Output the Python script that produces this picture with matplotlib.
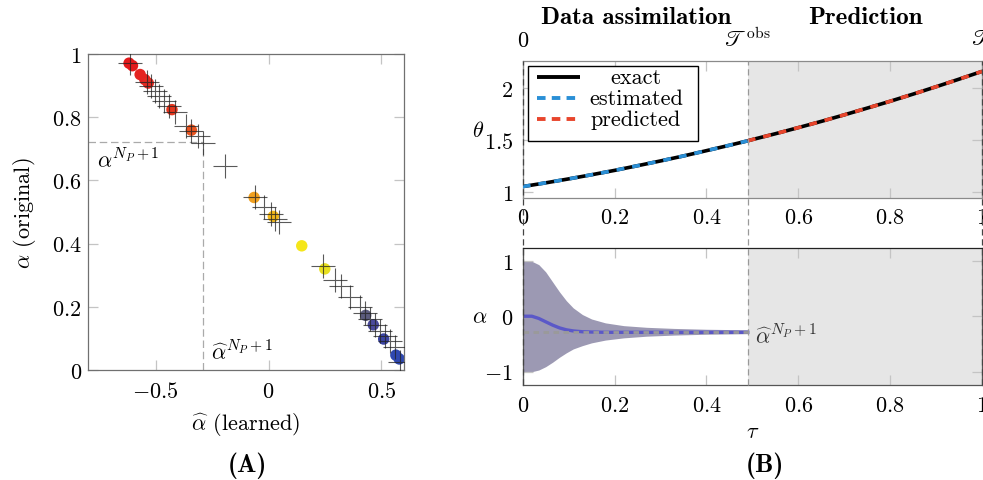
import numpy as np
import matplotlib
matplotlib.use('Agg')
import matplotlib.pyplot as plt
from matplotlib.lines import Line2D
from matplotlib.patches import Rectangle

plt.rcParams['font.family'] = 'cmr10'
plt.rcParams['mathtext.fontset'] = 'cm'
plt.rcParams['axes.formatter.use_mathtext'] = True
plt.rcParams['font.size'] = 16

# ---- (A) learned vs. original parameter ----
alpha_learned = [-0.618, -0.603, -0.569, -0.548, -0.533, -0.428, -0.342, -0.064,
                 0.021, 0.147, 0.249, 0.430, 0.464, 0.510, 0.564, 0.579]
alpha_original = [0.971, 0.963, 0.935, 0.919, 0.908, 0.824, 0.759, 0.546,
                  0.486, 0.393, 0.320, 0.173, 0.143, 0.098, 0.047, 0.035]
point_colors = ['#e31a1c', '#e31a1c', '#e42320', '#e42320', '#e52a20', '#e6361e',
                '#ea5520', '#f0a020', '#f2b81a', '#f5e61a', '#e8e020', '#5c5c7e',
                '#4a4a9c', '#3a44a4', '#2f48b0', '#2f48b0']

cross_learned = [-0.615, -0.537, -0.522, -0.502, -0.484, -0.462, -0.44, -0.415,
                 -0.366, -0.343, -0.314, -0.289, -0.193,
                 -0.062, -0.021, 0.012, 0.027, 0.044,
                 0.239, 0.293, 0.319, 0.36, 0.404, 0.427, 0.449, 0.471,
                 0.493, 0.516, 0.538, 0.56, 0.582]
cross_original = [0.972, 0.910, 0.898, 0.884, 0.868, 0.852, 0.835, 0.815,
                  0.773, 0.757, 0.739, 0.718, 0.647,
                  0.547, 0.515, 0.494, 0.478, 0.467,
                  0.328, 0.286, 0.267, 0.230, 0.198, 0.180, 0.161, 0.142,
                  0.124, 0.109, 0.093, 0.072, 0.024]

alpha_hat_new = -0.29
alpha_new = 0.72

# ---- (B) state and parameter trajectories ----
tau_obs = 0.49
tau_theta = [0, 0.05, 0.1, 0.15, 0.2, 0.25, 0.3, 0.35, 0.4, 0.45, 0.49,
             0.5, 0.55, 0.6, 0.65, 0.7, 0.75, 0.8, 0.85, 0.9, 0.95, 1.0]
theta_exact = [1.050, 1.086, 1.124, 1.164, 1.206, 1.251, 1.297, 1.345, 1.396, 1.448, 1.491,
               1.503, 1.559, 1.618, 1.678, 1.741, 1.806, 1.872, 1.941, 2.012, 2.085, 2.160]
i_obs = tau_theta.index(tau_obs)

tau_alpha = [0, 0.02, 0.035, 0.05, 0.065, 0.08, 0.095, 0.11, 0.13, 0.15,
             0.18, 0.22, 0.27, 0.33, 0.40, 0.49]
alpha_upper = [1.0, 0.99, 0.93, 0.80, 0.62, 0.44, 0.28, 0.15, 0.03, -0.05,
               -0.12, -0.17, -0.20, -0.22, -0.235, -0.245]
alpha_lower = [-1.0, -1.0, -0.97, -0.91, -0.83, -0.74, -0.66, -0.59, -0.53, -0.48,
               -0.43, -0.39, -0.36, -0.34, -0.325, -0.315]
alpha_mean = [0.0, 0.0, -0.04, -0.10, -0.16, -0.21, -0.245, -0.265, -0.28, -0.285,
              -0.29, -0.29, -0.29, -0.29, -0.29, -0.29]

W, H = 983, 481
fig = plt.figure(figsize=(W / 100, H / 100), dpi=100)


def add_axes_px(x0, y0, x1, y1):
    return fig.add_axes([x0 / W, 1 - y1 / H, (x1 - x0) / W, (y1 - y0) / H])


def style(ax, spine_col, xpad, ypad):
    ax.tick_params(which='both', direction='in', top=True, right=True, length=7,
                   width=0.9, color='#c4c4c4')
    ax.tick_params(axis='x', pad=xpad)
    ax.tick_params(axis='y', pad=ypad)
    for s in ax.spines.values():
        s.set_color(spine_col)
        s.set_linewidth(0.9)


# (A)
ax = add_axes_px(88, 55, 404, 371)
ax.scatter(alpha_learned, alpha_original, s=68, c=point_colors, edgecolors='none', zorder=2)
ax.plot(cross_learned, cross_original, ls='none', marker='+', ms=17, mew=0.8,
        color='#222222', alpha=0.75, zorder=3)
ax.plot([-0.8, alpha_hat_new], [alpha_new, alpha_new], color='#aaaaaa', lw=0.9,
        dashes=(6, 3), zorder=1)
ax.plot([alpha_hat_new, alpha_hat_new], [0, alpha_new], color='#aaaaaa', lw=0.9,
        dashes=(6, 3), zorder=1)
ax.text(-0.76, 0.668, r'$\alpha^{N_P+1}$', fontsize=16, va='center', ha='left')
ax.text(-0.253, 0.06, r'$\widehat{\alpha}^{N_P+1}$', fontsize=16, va='center', ha='left')
ax.set_xlim(-0.8, 0.6)
ax.set_ylim(0, 1)
ax.set_xticks([-0.5, 0, 0.5])
ax.set_xticklabels([r'$-0.5$', r'$0$', r'$0.5$'])
ax.set_yticks([0, 0.2, 0.4, 0.6, 0.8, 1])
ax.set_yticklabels([r'$0$', r'$0.2$', r'$0.4$', r'$0.6$', r'$0.8$', r'$1$'])
style(ax, '#707070', 8, 4.5)
ax.set_xlabel(r'$\widehat{\alpha}$ (learned)')
ax.xaxis.set_label_coords(0.5, -(425 - 371) / 316)
ax.xaxis.label.set_va('center')
ax.set_ylabel(r'$\alpha$ (original)')
ax.yaxis.set_label_coords(-(88 - 25) / 316, 0.5)
ax.yaxis.label.set_va('center')

# (B) top: theta
ax1 = add_axes_px(522.7, 62, 982, 199)
ax1.axvspan(tau_obs, 1, color='#e6e6e6', lw=0, zorder=0)
ax1.plot(tau_theta, theta_exact, color='black', lw=2.6, solid_capstyle='butt', zorder=2)
ax1.plot(tau_theta[:i_obs + 1], theta_exact[:i_obs + 1], color='#2a8fd6', lw=2.6,
         dashes=(2.2, 2.2), zorder=3)
ax1.plot(tau_theta[i_obs:], theta_exact[i_obs:], color='#e8452c', lw=2.6,
         dashes=(2.2, 2.2), zorder=3)
ax1.set_xlim(0, 1)
ax1.set_ylim(0.94, 2.26)
ax1.set_xticks([0, 0.2, 0.4, 0.6, 0.8, 1])
ax1.set_xticklabels([r'$0$', r'$0.2$', r'$0.4$', r'$0.6$', r'$0.8$', r'$1$'])
ax1.set_yticks([1, 1.5, 2])
ax1.set_yticklabels([r'$1$', r'$1.5$', r'$2$'])
style(ax1, '#8a8a8a', 7, 7)
ax1.set_ylabel(r'$\theta$', rotation=0)
ax1.yaxis.set_label_coords(-(522.7 - 478) / 459.3, 0.5)
ax1.yaxis.label.set_va('center')

# hand-built legend box
ax1.add_patch(Rectangle((0.0115, 0.416), 0.370, 0.5475, transform=ax1.transAxes,
                        facecolor='white', edgecolor='black', lw=1.0, zorder=5))
legend_rows = [('exact', 'black', None, 0.883),
               ('estimated', '#2a8fd6', (2.2, 1.6), 0.730),
               ('predicted', '#e8452c', (2.2, 1.6), 0.577)]
for label, col, dash, yy in legend_rows:
    ln = Line2D([0.0305, 0.1247], [yy, yy], transform=ax1.transAxes, color=col,
                lw=2.8, solid_capstyle='butt', zorder=6)
    if dash is not None:
        ln.set_dashes(dash)
    ax1.add_line(ln)
    ax1.text(0.247, yy, label, transform=ax1.transAxes, ha='center', va='center',
             fontsize=16, zorder=6)

xtop = ax1.get_xaxis_transform()
ax1.text(0, 1 + (62 - 41) / 137, r'$0$', transform=xtop, ha='center', va='center')
ax1.text(tau_obs, 1 + (62 - 39) / 137, r'$\mathscr{T}^{\mathrm{obs}}$', transform=xtop,
         ha='center', va='center')
ax1.text(1, 1 + (62 - 39) / 137, r'$\mathscr{T}$', transform=xtop, ha='center', va='center')
ax1.text(0.248, 1 + (62 - 18) / 137, 'Data assimilation', transform=xtop, ha='center',
         va='center', family='cmb10', fontsize=18)
ax1.text(0.745, 1 + (62 - 18) / 137, 'Prediction', transform=xtop, ha='center',
         va='center', family='cmb10', fontsize=18)

# (B) bottom: alpha
ax2 = add_axes_px(522.7, 249, 982, 386)
ax2.axvspan(tau_obs, 1, color='#e6e6e6', lw=0, zorder=0)
ax2.fill_between(tau_alpha, alpha_lower, alpha_upper, color='#9c99b3', lw=0, zorder=1)
ax2.plot(tau_alpha, alpha_mean, color='#5b58c8', lw=2.4, zorder=2)
ax2.plot([0, tau_obs], [alpha_hat_new, alpha_hat_new], color='#9a9a9a', lw=2.0,
         dashes=(2, 1.6), zorder=3)
ax2.text(tau_obs + 0.015, alpha_hat_new - 0.05, r'$\widehat{\alpha}^{N_P+1}$', ha='left',
         va='center', fontsize=16, color='#333333')
ax2.set_xlim(0, 1)
ax2.set_ylim(-1.24, 1.23)
ax2.set_xticks([0, 0.2, 0.4, 0.6, 0.8, 1])
ax2.set_xticklabels([r'$0$', r'$0.2$', r'$0.4$', r'$0.6$', r'$0.8$', r'$1$'])
ax2.set_yticks([-1, 0, 1])
ax2.set_yticklabels([r'$-1$', r'$0$', r'$1$'])
style(ax2, '#555555', 7.5, 7)
ax2.spines['top'].set_color('#222222')
ax2.set_ylabel(r'$\alpha$', rotation=0)
ax2.yaxis.set_label_coords(-(522.7 - 480) / 459.3, 0.5)
ax2.yaxis.label.set_va('center')
ax2.set_xlabel(r'$\tau$')
ax2.xaxis.set_label_coords(0.5, -(432 - 386) / 137)
ax2.xaxis.label.set_va('center')

# dashed time markers running through both panels
fig.canvas.draw()
inv = fig.transFigure.inverted()
y_lo = ax2.get_position().y0
y_hi = ax1.get_position().y1
for t, col in [(0, '#444444'), (tau_obs, '#999999'), (1, '#444444')]:
    xf = inv.transform(ax1.transData.transform((t, 1)))[0]
    if t == 1:
        xf -= 0.5 / W
    fig.add_artist(Line2D([xf, xf], [y_lo, y_hi], transform=fig.transFigure, color=col,
                          lw=0.9, dashes=(5, 3), zorder=10))

fig.text(247 / W, 1 - 466 / H, '(A)', ha='center', va='center', family='cmb10', fontsize=18.5)
fig.text(765 / W, 1 - 466 / H, '(B)', ha='center', va='center', family='cmb10', fontsize=18.5)

fig.savefig('out.png', dpi=100)
